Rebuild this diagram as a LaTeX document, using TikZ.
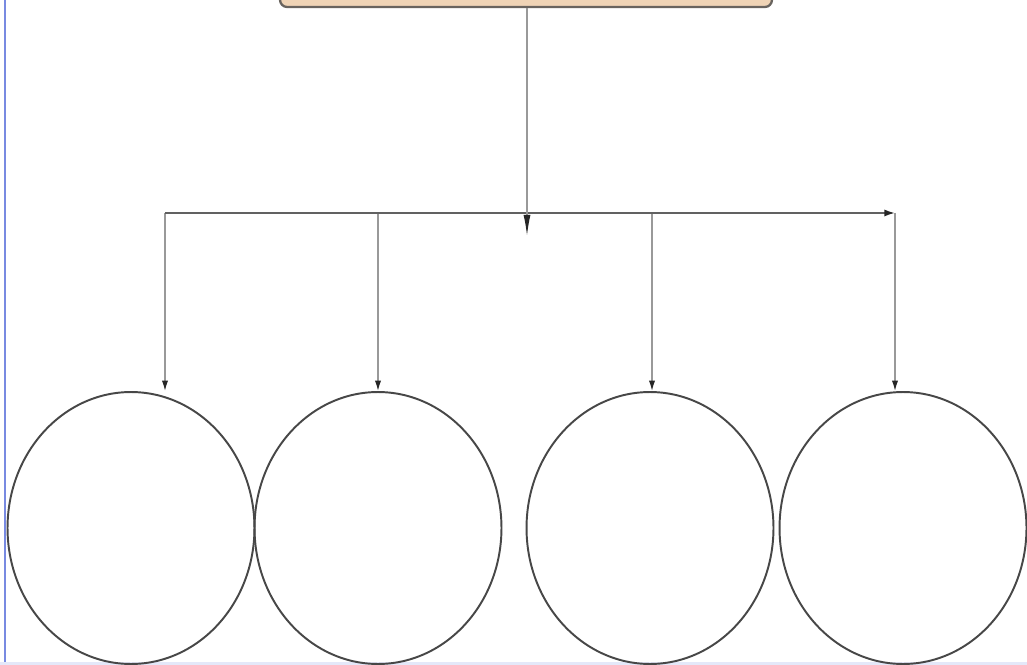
\documentclass[tikz,border=0pt]{standalone}
\usepackage[dvipsnames]{xcolor}
\usepackage{tikz}
\usetikzlibrary{shapes.geometric,  % pour les ellipses
           arrows.meta,            % pointes de fleches
           positioning}
\definecolor{peau}{RGB}{240,212,182}
\definecolor{bord}{RGB}{105,100,95}
\definecolor{cadre}{RGB}{120,138,225}
\tikzset{
  bulle/.style={draw=black!72, line width=1.1pt, ellipse, inner sep=0pt,
                minimum width=4.94cm, minimum height=5.44cm},
  titre/.style={draw=bord, fill=peau, line width=1.3pt, rounded corners=4pt,
                minimum width=9.84cm, minimum height=0.88cm},
  fleche/.style={draw=black!40, line width=0.8pt,
                 -{Latex[length=6pt,width=3.6pt,color=black!85]}},
  barre/.style={draw=black!62, line width=1pt,
                -{Latex[length=6pt,width=4pt,color=black!85]}},
  tronc/.style={draw=black!40, line width=0.8pt,
                -{Latex[length=12pt,width=4pt,color=black!85]}}
}

\begin{document}
\begin{tikzpicture}[x=0.02cm,y=-0.02cm]
\clip (0,0) rectangle (1027,665);
\fill[white] (0,0) rectangle (1027,665);
\draw[cadre, line width=1.3pt] (5,0)--(5,665);
\draw[cadre!20, line width=2pt] (0,664)--(1027,664);
\node[titre] (theme) at (526,-15) {};
% les quatre bulles et leurs fleches
\foreach \n/\x/\cx in {1/165/131, 2/378/378, 3/652/650, 4/895/903} {
\node[bulle] (c\n) at (\cx,528) {};
\coordinate (b\n) at (\x,213);
\draw[fleche] (b\n) -- (b\n |- c\n.north);}
\coordinate (hub) at (527,236);
\draw[barre] (b1) -- (b4);
\draw[tronc] (theme.south -| hub) -- (hub);
\end{tikzpicture}
\end{document}
